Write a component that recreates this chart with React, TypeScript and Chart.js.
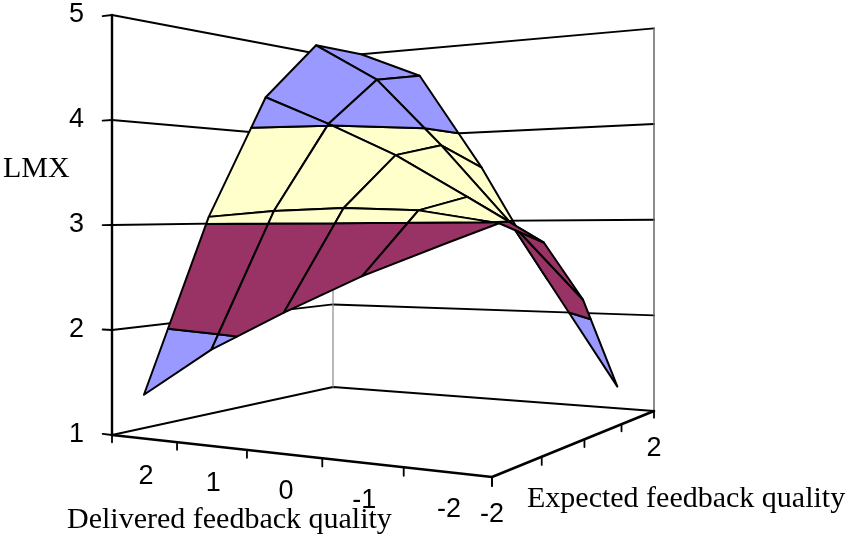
import React, { useEffect, useRef } from 'react';
import { Chart, registerables } from 'chart.js';

Chart.register(...registerables);

// axes of the surface
const deliveredLabels = ['2', '1', '0', '-1', '-2'];
const expectedLabels = ['-2', '-1', '0', '1', '2'];
const expectedShown = ['-2', '2'];
const lmxTicks = [1, 2, 3, 4, 5];

// LMX, delivered 2 .. -2, one list per expected value
const lmxExpMinus2 = [1.41, 1.87, 2.23, 2.56, 2.84];
const lmxExpMinus1 = [3.07, 3.12, 3.14, 3.11, 2.99];
const lmxExp0 = [4.34, 4.02, 3.67, 3.24, 2.8];
const lmxExp1 = [5.0, 4.56, 3.81, 2.99, 2.21];
const lmxExp2 = [5.0, 4.69, 3.6, 2.35, 1.23];
const lmxByExpected = [lmxExpMinus2, lmxExpMinus1, lmxExp0, lmxExp1, lmxExp2];

// colour bands 1-2, 2-3, 3-4, 4-5
const bandColors = ['#9999ff', '#993366', '#ffffcc', '#9999ff'];

const PIC_W = 851;
const PIC_H = 538;

// floor of the box: A = left, C = front, D = right, B = back
const A = { x: 112, y: 435 };
const C = { x: 492, y: 477 };
const D = { x: 654, y: 411 };
const B = { x: 333, y: 387 };
const UNIT_AT_A = 105; // height of one LMX unit at corner A

// square -> floor quad perspective mapping
function makeHomography() {
  const dx1 = C.x - D.x, dx2 = B.x - D.x, dx3 = A.x - C.x + D.x - B.x;
  const dy1 = C.y - D.y, dy2 = B.y - D.y, dy3 = A.y - C.y + D.y - B.y;
  const den = dx1 * dy2 - dx2 * dy1;
  const g = (dx3 * dy2 - dx2 * dy3) / den;
  const h = (dx1 * dy3 - dx3 * dy1) / den;
  return {
    a: C.x - A.x + g * C.x, b: B.x - A.x + h * B.x, c: A.x,
    d: C.y - A.y + g * C.y, e: B.y - A.y + h * B.y, f: A.y,
    g, h,
  };
}
const HG = makeHomography();

const depth = (u: number, v: number) => HG.g * u + HG.h * v + 1;

function project(u: number, v: number, z: number) {
  const w = depth(u, v);
  return {
    x: (HG.a * u + HG.b * v + HG.c) / w,
    y: (HG.d * u + HG.e * v + HG.f - (z - lmxTicks[0]) * UNIT_AT_A) / w,
  };
}

type P3 = { u: number; v: number; z: number };

function clipLevel(poly: P3[], level: number, keepAbove: boolean): P3[] {
  const out: P3[] = [];
  for (let i = 0; i < poly.length; i++) {
    const a = poly[i];
    const b = poly[(i + 1) % poly.length];
    const inA = keepAbove ? a.z >= level : a.z <= level;
    const inB = keepAbove ? b.z >= level : b.z <= level;
    if (inA) out.push(a);
    if (inA !== inB) {
      const t = (level - a.z) / (b.z - a.z);
      out.push({ u: a.u + t * (b.u - a.u), v: a.v + t * (b.v - a.v), z: level });
    }
  }
  return out;
}

const uOf = (i: number) => (i + 0.5) / deliveredLabels.length;
const vOf = (j: number) => j / (expectedLabels.length - 1);

function buildDatasets() {
  const sets: any[] = [];
  const line = (pts: { x: number; y: number }[], color = '#000', width = 1.9) =>
    sets.push({ data: pts, borderColor: color, borderWidth: width, fill: false });

  // walls: left wall A-B and back wall B-D, one polyline per LMX tick
  lmxTicks.forEach((t) => line([project(0, 0, t), project(0, 1, t), project(1, 1, t)]));
  const zTop = lmxTicks[lmxTicks.length - 1];
  const zBot = lmxTicks[0];
  line([project(0, 1, zBot), project(0, 1, zTop)], '#8a8a8a', 1.2);
  line([project(1, 1, zBot), project(1, 1, zTop)], '#666', 1.5);
  line([project(0, 0, zBot), project(0, 0, zTop)], '#000', 2.4);

  // surface cells, far to near
  const cells: { quad: P3[]; w: number }[] = [];
  for (let j = 0; j < expectedLabels.length - 1; j++) {
    for (let i = 0; i < deliveredLabels.length - 1; i++) {
      const quad = [
        { u: uOf(i), v: vOf(j), z: lmxByExpected[j][i] },
        { u: uOf(i + 1), v: vOf(j), z: lmxByExpected[j][i + 1] },
        { u: uOf(i + 1), v: vOf(j + 1), z: lmxByExpected[j + 1][i + 1] },
        { u: uOf(i), v: vOf(j + 1), z: lmxByExpected[j + 1][i] },
      ];
      cells.push({ quad, w: depth((uOf(i) + uOf(i + 1)) / 2, (vOf(j) + vOf(j + 1)) / 2) });
    }
  }
  cells.sort((p, q) => q.w - p.w);
  cells.forEach(({ quad }) => {
    bandColors.forEach((color, k) => {
      const lo = lmxTicks[k];
      const hi = lmxTicks[k + 1];
      const piece = clipLevel(clipLevel(quad, lo, true), hi, false);
      if (piece.length < 3) return;
      const pts = piece.map((p) => project(p.u, p.v, p.z));
      pts.push(pts[0]);
      sets.push({
        data: pts,
        borderColor: '#000',
        borderWidth: 2,
        backgroundColor: color,
        fill: 'shape',
      });
    });
  });

  // front floor edges with their ticks
  line([project(0, 0, zBot), project(1, 0, zBot), project(1, 1, zBot)], '#000', 2.6);
  for (let i = 0; i <= deliveredLabels.length; i++) {
    const u = i / deliveredLabels.length;
    line([project(u, 0, zBot), project(u, 0, zBot - 0.07)], '#000', 1.8);
  }
  expectedLabels.forEach((_, j) => {
    line([project(1, vOf(j), zBot), project(1, vOf(j), zBot - 0.07)], '#000', 1.8);
  });
  lmxTicks.forEach((t) => line([project(0, 0, t), project(-0.03, 0, t)], '#000', 1.8));

  sets.forEach((s, i) => {
    s.order = sets.length - i;
    s.pointRadius = 0;
    s.tension = 0;
    s.borderJoinStyle = 'round';
    s.borderCapStyle = 'round';
  });
  return sets;
}

const labelPlugin = {
  id: 'surfaceLabels',
  afterDraw(chart: any) {
    const { ctx } = chart;
    const sx = chart.scales.x;
    const sy = chart.scales.y;
    const px = (p: { x: number; y: number }) => ({ x: sx.getPixelForValue(p.x), y: sy.getPixelForValue(p.y) });
    ctx.save();
    ctx.fillStyle = '#000';
    ctx.font = '27px "Liberation Sans", Arial, sans-serif';

    ctx.textAlign = 'right';
    ctx.textBaseline = 'middle';
    lmxTicks.forEach((t) => {
      const p = px(project(0, 0, t));
      ctx.fillText(String(t), p.x - 28, p.y);
    });

    ctx.textAlign = 'center';
    deliveredLabels.forEach((lab, i) => {
      const p = px(project(uOf(i), 0, lmxTicks[0]));
      ctx.fillText(lab, p.x + 2, p.y + 38);
    });
    expectedLabels.forEach((lab, j) => {
      if (!expectedShown.includes(lab)) return;
      const p = px(project(1, vOf(j), lmxTicks[0]));
      ctx.fillText(lab, p.x, p.y + 38);
    });

    ctx.font = '30px "Liberation Serif", "Times New Roman", serif';
    ctx.textAlign = 'left';
    ctx.textBaseline = 'alphabetic';
    ctx.fillText('LMX', 3, 177);
    ctx.fillText('Delivered feedback quality', 67, 528);
    ctx.fillText('Expected feedback quality', 527, 507);
    ctx.restore();
  },
};

const App: React.FC = () => {
  const canvasRef = useRef<HTMLCanvasElement | null>(null);
  const chartRef = useRef<Chart | null>(null);

  useEffect(() => {
    document.body.style.margin = '0';
    if (!canvasRef.current) return;
    if (chartRef.current) chartRef.current.destroy();

    chartRef.current = new Chart(canvasRef.current, {
      type: 'line',
      data: { datasets: buildDatasets() },
      options: {
        animation: false,
        responsive: true,
        maintainAspectRatio: false,
        events: [],
        layout: { padding: 0 },
        scales: {
          x: { type: 'linear', min: 0, max: PIC_W, display: false },
          y: { type: 'linear', min: 0, max: PIC_H, reverse: true, display: false },
        },
        plugins: {
          legend: { display: false },
          tooltip: { enabled: false },
        },
      },
      plugins: [labelPlugin],
    } as any);

    return () => {
      if (chartRef.current) {
        chartRef.current.destroy();
        chartRef.current = null;
      }
    };
  }, []);

  return (
    <div style={{ position: 'relative', width: PIC_W, height: PIC_H, background: '#fff' }}>
      <canvas ref={canvasRef} />
    </div>
  );
};

export default App;
